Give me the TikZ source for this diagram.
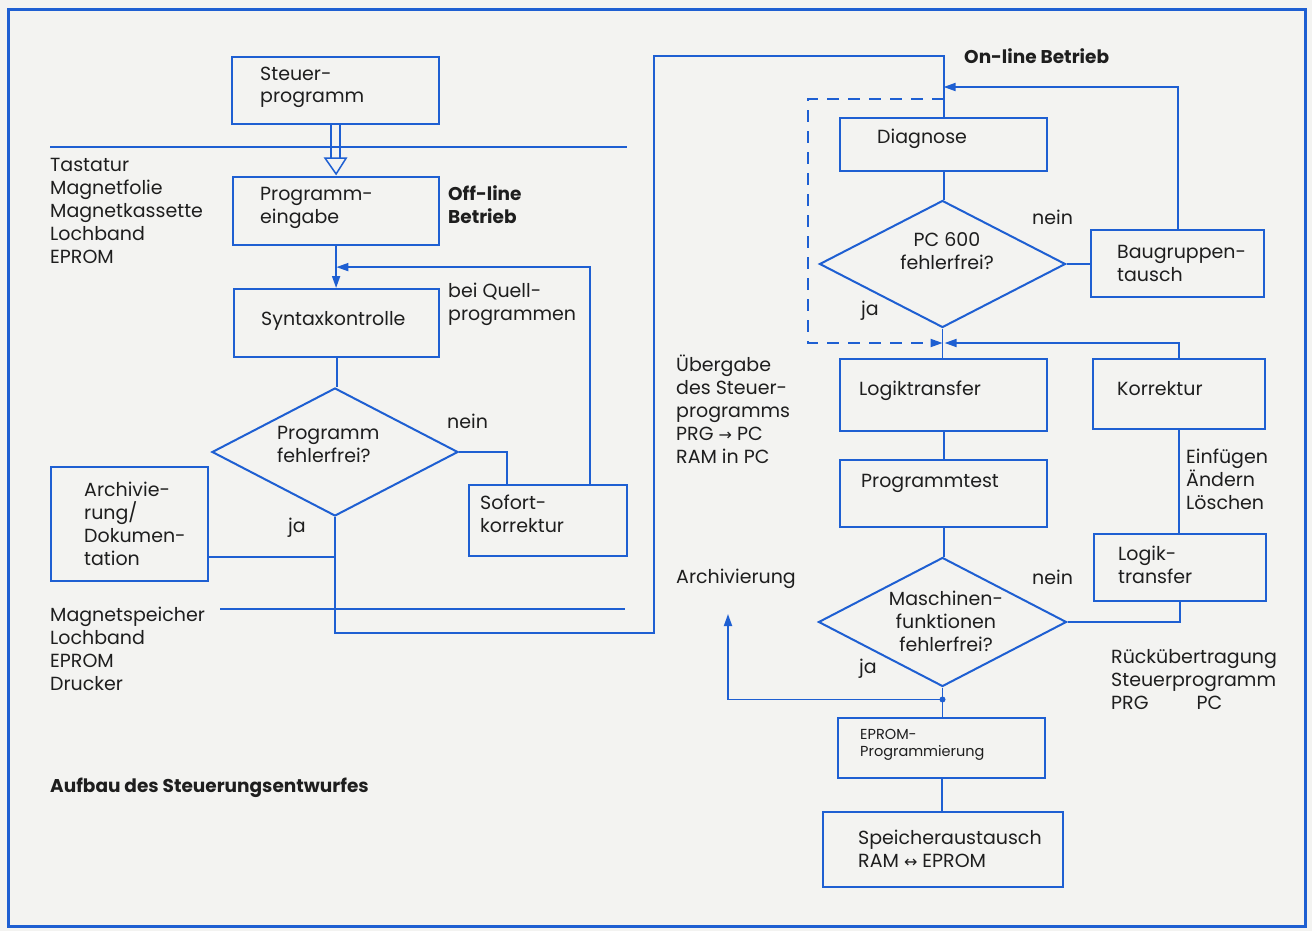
\documentclass[tikz,border=0pt]{standalone}
\usepackage{fontspec}
\setmainfont{Poppins}
\newfontfamily\symf{DejaVu Sans}
\usetikzlibrary{shapes.geometric,arrows.meta,calc}
\definecolor{bl}{HTML}{1E5FD2}
\definecolor{ink}{HTML}{1E1E1E}
\definecolor{paper}{HTML}{F3F3F1}
\begin{document}
\begin{tikzpicture}[x=1pt,y=-1pt,
  box/.style={draw=bl,line width=2.2pt,rectangle,inner sep=0pt,anchor=north west},
  dia/.style={draw=bl,line width=2pt,diamond,inner sep=0pt},
  ln/.style={draw=bl,line width=1.8pt},
  arr/.style={ln,-{Triangle[length=12pt,width=8pt]}},
  txt/.style={inner sep=0pt,anchor=base west,text=ink,align=left,font=\fontsize{19}{22.8}\selectfont},
  txtc/.style={txt,anchor=base,align=center},
  txtb/.style={txt,font=\fontsize{18.5}{22.8}\selectfont\bfseries},
  txts/.style={txt,font=\fontsize{14.5}{16.5}\selectfont}]
\fill[paper] (0,0) rectangle (1312,931);
\useasboundingbox (0,0) rectangle (1312,931);
\draw[bl,line width=3pt] (8,10) rectangle (1305,926);

% separator lines
\draw[ln] (50,147) -- (627,147);
\draw[ln] (220,609) -- (625,609);

% left boxes
\node[box,minimum width=207pt,minimum height=67pt] (steuer) at (231,56) {};
\node[box,minimum width=206pt,minimum height=68pt] (peing) at (232,176) {};
\node[box,minimum width=205pt,minimum height=68pt] (syntax) at (233,288) {};
\node[box,minimum width=158pt,minimum height=71pt] (sofort) at (468,484) {};
\node[box,minimum width=157pt,minimum height=114pt] (archiv) at (50,466) {};
\node[dia,minimum width=246pt,minimum height=128pt] (d1) at (335,452) {};

% right boxes
\node[box,minimum width=207pt,minimum height=53pt] (diag) at (839,117) {};
\node[box,minimum width=173pt,minimum height=67pt] (baug) at (1090,229) {};
\node[box,minimum width=207pt,minimum height=72pt] (logik) at (839,358) {};
\node[box,minimum width=172pt,minimum height=70pt] (korr) at (1092,358) {};
\node[box,minimum width=207pt,minimum height=67pt] (ptest) at (839,459) {};
\node[box,minimum width=172pt,minimum height=67pt] (logik2) at (1093,533) {};
\node[box,minimum width=207pt,minimum height=60pt] (eprom) at (837,717) {};
\node[box,minimum width=240pt,minimum height=75pt] (speich) at (822,811) {};
\node[dia,minimum width=246pt,minimum height=127pt] (d2) at (942.5,264) {};
\node[dia,minimum width=248pt,minimum height=129pt] (d3) at (942.5,622) {};

% left connectors
\draw[ln,line width=1.5pt] ($(steuer.south)+(-4.5,0)$) -- ++(0,33);
\draw[ln,line width=1.5pt] ($(steuer.south)+(4.5,0)$) -- ++(0,33);
\draw[ln,line width=1.5pt,fill=paper,line join=miter] ($(steuer.south)+(-10.5,33)$) -- ($(steuer.south)+(10.5,33)$) -- ($(peing.north)+(0,-2)$) -- cycle;
\coordinate (jA) at ($(peing.south)!0.5!(syntax.north)$);
\draw[arr] (peing.south) -- (peing.south |- syntax.north);
\draw[arr] ($(sofort.north west)+(122,0)$) |- (jA);
\draw[ln] (syntax.south) -- (syntax.south |- d1.north);
\draw[ln] (d1.east) -| ($(sofort.north west)+(39,0)$);
\coordinate (c1) at (654,633);
\coordinate (c2) at (654,56);
\draw[ln] (d1.south) |- (c1) -- (c2) -| (diag.north);
\coordinate (aA) at ($(archiv.south east)+(0,-25)$);
\draw[ln] (aA) -- (aA -| d1.south);

% right connectors
\coordinate (jB) at ($(diag.north)+(0,-30)$);
\draw[arr] (baug.north) |- (jB);
\coordinate (jD) at ($(diag.north)+(0,-18)$);
\coordinate (jC) at ($(logik.north)+(0,-15)$);
\coordinate (dB) at (808,343);
\draw[ln,dash pattern=on 12pt off 9pt,-{Triangle[length=12pt,width=8pt]}] (jD) -| (dB) -- ($(jC)+(-1,0)$);
\draw[arr] (korr.north) |- ($(jC)+(1,0)$);
\draw[ln] (diag.south) -- (diag.south |- d2.north);
\draw[ln] (d2.east) -- (d2.east -| baug.west);
\draw[ln] (d2.south) -- (d2.south |- logik.north);
\draw[ln] (logik.south) -- (logik.south |- ptest.north);
\draw[ln] (ptest.south) -- (ptest.south |- d3.north);
\draw[ln] (korr.south) -- (korr.south |- logik2.north);
\draw[ln] (d3.east) -| (logik2.south);
\coordinate (jE) at ($(d3.south)+(0,12)$);
\coordinate (aT) at (728,614);
\draw[ln] (d3.south) -- (jE) -- (jE |- eprom.north);
\fill[bl] (jE) circle (3pt);
\draw[arr] (jE) -| (aT);
\draw[ln] (eprom.south) -- (eprom.south |- speich.north);

% left texts (anchor = baseline of last line)
\node[txt] (tIn) at (50,263) {Tastatur\\Magnetfolie\\Magnetkassette\\Lochband\\EPROM};
\node[txt] (tSt) at (260,103) {Steuer-\\programm};
\node[txt] (tPe) at (260,223) {Programm-\\eingabe};
\node[txtb] (tOff) at (448,223) {Off-line\\Betrieb};
\node[txt] (tSy) at (261,325) {Syntaxkontrolle};
\node[txt] (tQu) at (448,320) {bei Quell-\\programmen};
\node[txt] (tD1) at (277,462) {Programm\\fehlerfrei?};
\node[txt] (tN1) at (447,428) {nein};
\node[txt] (tSo) at (480,532) {Sofort-\\korrektur};
\node[txt] (tAr) at (84,565) {Archivie-\\rung/\\Dokumen-\\tation};
\node[txt] (tJ1) at (288,532) {ja};
\node[txt] (tOut) at (50,690) {Magnetspeicher\\Lochband\\EPROM\\Drucker};
\node[txtb] (tTitle) at (50,792) {Aufbau des Steuerungsentwurfes};

% right texts
\node[txtb] (tOn) at (964,64) {On-line Betrieb};
\node[txt] (tDi) at (877,144) {Diagnose};
\node[txt] (tN2) at (1032,224) {nein};
\node[txtc] (tD2) at (947,269) {PC 600\\fehlerfrei?};
\node[txt] (tBa) at (1117,281) {Baugruppen-\\tausch};
\node[txt] (tJ2) at (861,315) {ja};
\node[txt] (tUe) at (676,463) {Übergabe\\des Steuer-\\programms\\PRG {\symf\fontsize{16}{16}\selectfont →} PC\\RAM in PC};
\node[txt] (tLo) at (859,395) {Logiktransfer};
\node[txt] (tKo) at (1117,395) {Korrektur};
\node[txt] (tPt) at (861,487) {Programmtest};
\node[txt] (tEi) at (1186,509) {Einfügen\\Ändern\\Löschen};
\node[txt] (tLo2) at (1118,583) {Logik-\\transfer};
\node[txt] (tArch) at (676,583) {Archivierung};
\node[txt] (tN3) at (1032,584) {nein};
\node[txtc] (tD3) at (946,651) {Maschinen-\\funktionen\\fehlerfrei?};
\node[txt] (tJ3) at (859,673) {ja};
\node[txt] (tRu) at (1111,709) {Rückübertragung\\Steuerprogramm\\PRG\hspace{48pt}PC};
\node[txts] (tEp) at (860,756) {EPROM-\\Programmierung};
\node[txt] (tSp) at (858,867) {Speicheraustausch\\RAM {\symf\fontsize{16}{16}\selectfont ↔} EPROM};
\end{tikzpicture}
\end{document}
